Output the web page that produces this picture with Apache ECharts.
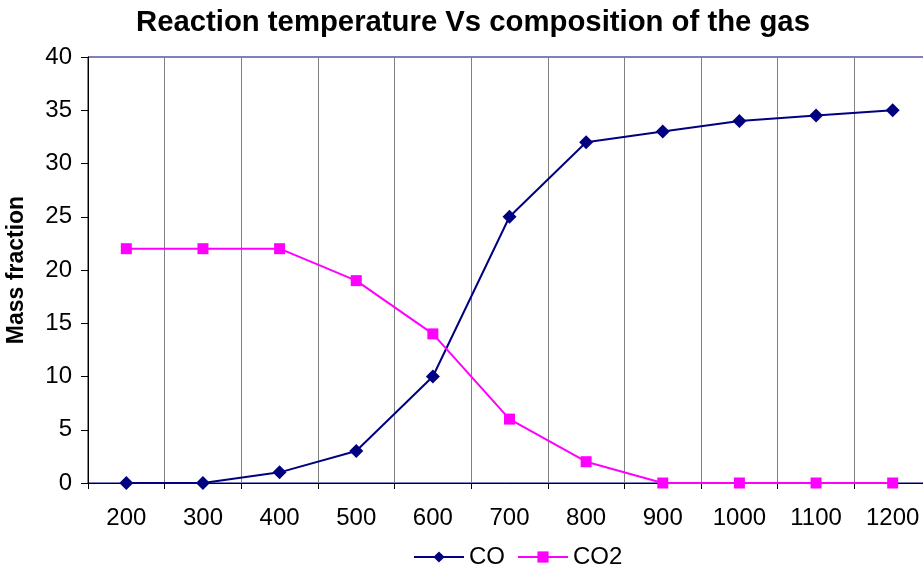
<!DOCTYPE html>
<html><head><meta charset="utf-8">
<script src="https://cdn.jsdelivr.net/npm/echarts@6/dist/echarts.min.js"></script>
<style>html,body{margin:0;padding:0;background:#fff}#c{width:923px;height:577px}</style>
</head><body><div id="c"></div>
<script>
var categories = ['200','300','400','500','600','700','800','900','1000','1100','1200'];
var coValues = [0, 0, 1, 3, 10, 25, 32, 33, 34, 34.5, 35];
var co2Values = [22, 22, 22, 19, 14, 6, 2, 0, 0, 0, 0];
var chart = echarts.init(document.getElementById('c'));
var font = 'Liberation Sans, Arial, sans-serif';
chart.setOption({
  animation: false,
  backgroundColor: '#fff',
  title: {text: 'Reaction temperature Vs composition of the gas', left: 131, top: 3,
    textStyle: {fontFamily: font, fontSize: 29.3, fontWeight: 'bold', color: '#000'}},
  grid: {left: 88, right: -8, top: 57, bottom: 94, show: true, borderColor: '#000080', borderWidth: 1,
    outerBoundsMode: 'none', containLabel: false},
  legend: {bottom: 3, left: 408, itemWidth: 50, itemHeight: 14, itemGap: 12,
    textStyle: {fontFamily: font, fontSize: 24, color: '#000'},
    data: ['CO', 'CO2']},
  xAxis: {type: 'category', data: categories, boundaryGap: true,
    axisLine: {lineStyle: {color: '#000', width: 1}},
    axisTick: {show: true, length: 6, lineStyle: {color: '#000'}},
    splitLine: {show: true, lineStyle: {color: '#808080', width: 1}},
    axisLabel: {fontFamily: font, fontSize: 24, color: '#000', margin: 23}},
  yAxis: {type: 'value', min: 0, max: 40, interval: 5, name: 'Mass fraction', nameLocation: 'middle', nameGap: 60,
    nameTextStyle: {fontFamily: font, fontSize: 23, fontWeight: 'bold', color: '#000'},
    axisLine: {show: true, lineStyle: {color: '#000', width: 1}},
    axisTick: {show: true, length: 7, lineStyle: {color: '#000'}},
    splitLine: {show: false},
    axisLabel: {fontFamily: font, fontSize: 24, color: '#000', margin: 16}},
  series: [
    {name: 'CO', type: 'line', data: coValues, symbol: 'diamond', symbolSize: 14,
      itemStyle: {color: '#000080'}, lineStyle: {color: '#000080', width: 2}},
    {name: 'CO2', type: 'line', data: co2Values, symbol: 'rect', symbolSize: 11,
      itemStyle: {color: '#FF00FF'}, lineStyle: {color: '#FF00FF', width: 2}}
  ]
});
</script></body></html>
